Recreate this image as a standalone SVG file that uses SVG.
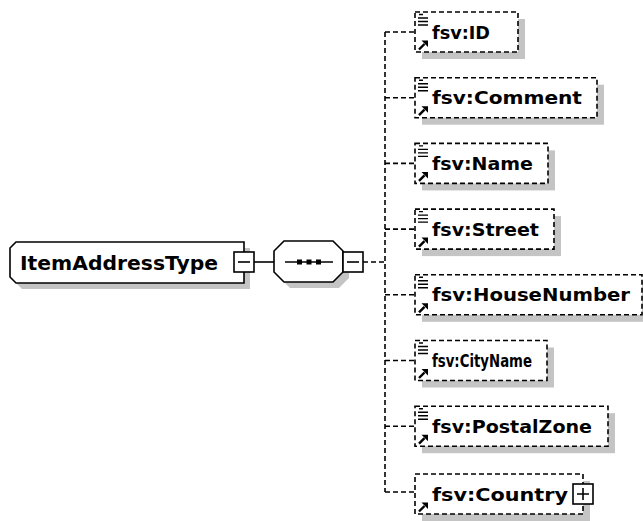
<svg xmlns="http://www.w3.org/2000/svg" xmlns:xlink="http://www.w3.org/1999/xlink" width="643" height="521" viewBox="0 0 643 521">
<style>
.bg{fill:#ffffff}
.shadow{fill:#c4c4c4;stroke:none}
.solid{fill:#ffffff;stroke:#000000;stroke-width:1.6}
.elem{fill:#ffffff;stroke:#000000;stroke-width:1.6;stroke-dasharray:5 3}
.conn{fill:none;stroke:#000000;stroke-width:1.6}
.dconn{fill:none;stroke:#000000;stroke-width:1.6;stroke-dasharray:5 3}
.lbl{font-family:"DejaVu Sans","Liberation Sans",sans-serif;font-weight:bold;font-size:18px;fill:#000000}
.big{font-size:20px}
.ink{stroke:#000000;stroke-width:1.6;fill:none}
</style>
<defs>
<g id="linesIcon">
<path d="M4 2.5H8M3 6H13M3 9.5H13M3 13H13" stroke="#000" stroke-width="1.4" fill="none"/>
</g>
<g id="arrowIcon">
<path d="M4 -2.5L9.5 -8" stroke="#000" stroke-width="2.4" fill="none"/>
<path d="M6.5 -11.5H13V-5Z" fill="#000"/>
</g>
<g id="minusBox">
<rect x="-10" y="-10" width="20" height="20" fill="#fff" stroke="#000" stroke-width="1.6"/>
<path d="M-6 0H6" stroke="#000" stroke-width="1.6"/>
</g>
</defs>
<rect class="bg" x="0" y="0" width="643" height="521"/>

<g id="connectors">
<path class="conn" d="M254 262H274"/>
<path class="dconn" d="M363 262H385"/>
<path class="dconn" d="M385 32V492"/>
<path class="dconn" d="M385 32H415M385 97.7H415M385 163.4H415M385 229.1H415M385 294.8H415M385 360.5H415M385 426.2H415M385 492H415"/>
</g>

<g id="ItemAddressType">
<path class="shadow" d="M22 248H250V289H22L16 283V254Z"/>
<path class="solid" d="M16 242H244V283H16L10 277V248Z"/>
<text class="lbl big" x="20" y="270" textLength="198" lengthAdjust="spacingAndGlyphs">ItemAddressType</text>
<use xlink:href="#minusBox" href="#minusBox" x="244" y="262"/>
</g>

<g id="sequence">
<path class="shadow" d="M290 247H339L349 257V278L339 288H290L280 278V257Z"/>
<path class="solid" d="M284 241H333L343 251V272L333 282H284L274 272V251Z"/>
<path class="ink" d="M285 262H333"/>
<rect x="297" y="259.5" width="5" height="5" fill="#000"/>
<rect x="306.5" y="259.5" width="5" height="5" fill="#000"/>
<rect x="316" y="259.5" width="5" height="5" fill="#000"/>
<use xlink:href="#minusBox" href="#minusBox" x="353" y="262"/>
</g>

<g id="ID">
<rect class="shadow" x="422" y="19" width="103" height="40"/>
<rect class="elem" x="415" y="12" width="103" height="40"/>
<use xlink:href="#linesIcon" href="#linesIcon" x="415" y="12"/>
<use xlink:href="#arrowIcon" href="#arrowIcon" x="415" y="52"/>
<text class="lbl" x="432" y="38.5" textLength="58" lengthAdjust="spacingAndGlyphs">fsv:ID</text>
</g>

<g id="Comment">
<rect class="shadow" x="422" y="84.7" width="182" height="40"/>
<rect class="elem" x="415" y="77.7" width="182" height="40"/>
<use xlink:href="#linesIcon" href="#linesIcon" x="415" y="77.7"/>
<use xlink:href="#arrowIcon" href="#arrowIcon" x="415" y="117.7"/>
<text class="lbl" x="432" y="104.2" textLength="150" lengthAdjust="spacingAndGlyphs">fsv:Comment</text>
</g>

<g id="Name">
<rect class="shadow" x="422" y="150.4" width="133" height="40"/>
<rect class="elem" x="415" y="143.4" width="133" height="40"/>
<use xlink:href="#linesIcon" href="#linesIcon" x="415" y="143.4"/>
<use xlink:href="#arrowIcon" href="#arrowIcon" x="415" y="183.4"/>
<text class="lbl" x="432" y="169.9" textLength="101" lengthAdjust="spacingAndGlyphs">fsv:Name</text>
</g>

<g id="Street">
<rect class="shadow" x="422" y="216.1" width="139" height="40"/>
<rect class="elem" x="415" y="209.1" width="139" height="40"/>
<use xlink:href="#linesIcon" href="#linesIcon" x="415" y="209.1"/>
<use xlink:href="#arrowIcon" href="#arrowIcon" x="415" y="249.1"/>
<text class="lbl" x="432" y="235.6" textLength="107" lengthAdjust="spacingAndGlyphs">fsv:Street</text>
</g>

<g id="HouseNumber">
<rect class="shadow" x="422" y="281.8" width="227" height="40"/>
<rect class="elem" x="415" y="274.8" width="227" height="40"/>
<use xlink:href="#linesIcon" href="#linesIcon" x="415" y="274.8"/>
<use xlink:href="#arrowIcon" href="#arrowIcon" x="415" y="314.8"/>
<text class="lbl" x="432" y="301.3" textLength="198" lengthAdjust="spacingAndGlyphs">fsv:HouseNumber</text>
</g>

<g id="CityName">
<rect class="shadow" x="422" y="347.5" width="132" height="40"/>
<rect class="elem" x="415" y="340.5" width="132" height="40"/>
<use xlink:href="#linesIcon" href="#linesIcon" x="415" y="340.5"/>
<use xlink:href="#arrowIcon" href="#arrowIcon" x="415" y="380.5"/>
<text class="lbl" x="432" y="367" textLength="100" lengthAdjust="spacingAndGlyphs">fsv:CityName</text>
</g>

<g id="PostalZone">
<rect class="shadow" x="422" y="413.2" width="193" height="40"/>
<rect class="elem" x="415" y="406.2" width="193" height="40"/>
<use xlink:href="#linesIcon" href="#linesIcon" x="415" y="406.2"/>
<use xlink:href="#arrowIcon" href="#arrowIcon" x="415" y="446.2"/>
<text class="lbl" x="432" y="432.7" textLength="160" lengthAdjust="spacingAndGlyphs">fsv:PostalZone</text>
</g>

<g id="Country">
<rect class="shadow" x="422" y="481" width="168" height="40"/>
<rect class="elem" x="415" y="474" width="168" height="40"/>
<use xlink:href="#arrowIcon" href="#arrowIcon" x="415" y="514"/>
<text class="lbl" x="432" y="500.5" textLength="136" lengthAdjust="spacingAndGlyphs">fsv:Country</text>
<rect x="573" y="484" width="20" height="20" fill="#fff" stroke="#000" stroke-width="1.6"/>
<path class="ink" d="M577 494H589M583 488V500"/>
</g>
</svg>
